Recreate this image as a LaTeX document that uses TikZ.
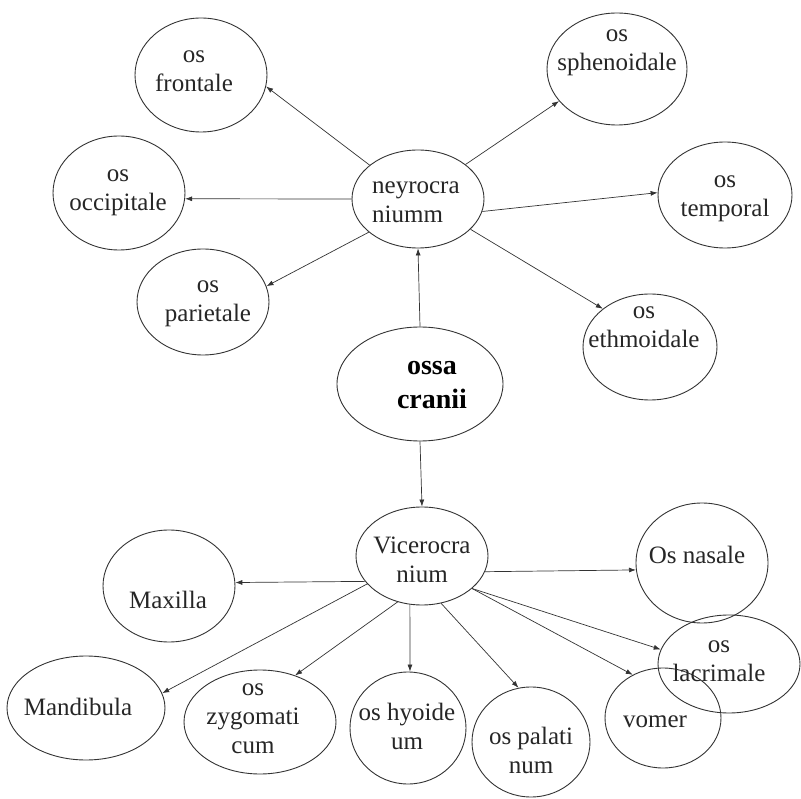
\documentclass[tikz,border=0pt]{standalone}
\usepackage{fontspec}
\setmainfont{Liberation Serif}
\usetikzlibrary{shapes.geometric,arrows.meta}
\begin{document}
\begin{tikzpicture}[x=1pt,y=-1pt,
  bone/.style 2 args={ellipse,draw=black!80,line width=0.9pt,inner sep=0pt,
    minimum width=#1pt,minimum height=#2pt},
  lbl/.style={text=black!85,font=\fontsize{25}{29}\selectfont,align=center,inner sep=0pt},
  big/.style={text=black,font=\fontsize{28}{34}\selectfont\bfseries,align=center,inner sep=0pt},
  link/.style={draw=black!80,line width=0.7pt,-{Latex[length=7pt,width=5pt]}}]
\useasboundingbox (0,0) rectangle (801,799);
% ellipses
\node[bone={132}{114}] (frontale) at (201,75) {};
\node[bone={132}{114}] (occipitale) at (119,193) {};
\node[bone={132}{106}] (parietale) at (203,302) {};
\node[bone={132}{98}] (neyro) at (418,199) {};
\node[bone={166}{114}] (ossa) at (420,384) {};
\node[bone={140}{112}] (sphenoidale) at (617,69) {};
\node[bone={134}{106}] (temporal) at (725,195) {};
\node[bone={134}{106}] (ethmoidale) at (650,347) {};
\node[bone={132}{98}] (viscero) at (422,556) {};
\node[bone={132}{112}] (maxilla) at (169,586) {};
\node[bone={158}{104}] (mandibula) at (86,708) {};
\node[bone={152}{104}] (zygomaticum) at (260,722) {};
\node[bone={116}{112}] (hyoideum) at (408,728) {};
\node[bone={118}{110}] (palatinum) at (531,742) {};
\node[bone={132}{120}] (nasale) at (702,563) {};
\node[bone={142}{98}] (lacrimale) at (729,664) {};
\node[bone={116}{100}] (vomer) at (663,718) {};
% texts
\node[lbl] (t-frontale) at (194,71) {os\\frontale};
\node[lbl] (t-occipitale) at (118,193) {os\\occipitale};
\node[lbl] (t-parietale) at (208,304) {os\\parietale};
\node[lbl,align=left,anchor=west] (t-neyro) at (372,202) {neyrocra\\niumm};
\node[big] (t-ossa) at (432,385) {ossa\\cranii};
\node[lbl] (t-sphenoidale) at (617,53) {os\\sphenoidale};
\node[lbl] (t-temporal) at (725,199) {os\\temporal};
\node[lbl] (t-ethmoidale) at (644,327) {os\\ethmoidale};
\node[lbl] (t-viscero) at (422,560) {Vicerocra\\nium};
\node[lbl] (t-maxilla) at (168,600) {Maxilla};
\node[lbl] (t-mandibula) at (78,707) {Mandibula};
\node[lbl] (t-zygomaticum) at (253,719) {os\\zygomati\\cum};
\node[lbl] (t-hyoideum) at (407,726) {os hyoide\\um};
\node[lbl] (t-palatinum) at (531,750) {os palati\\num};
\node[lbl] (t-nasale) at (697,555) {Os nasale};
\node[lbl] (t-lacrimale) at (719,661) {os\\lacrimale};
\node[lbl] (t-vomer) at (655,722) {vomer};
% connectors
\draw[link] (neyro.145) -- (frontale.-10);
\draw[link] (neyro.180) -- (occipitale.-5);
\draw[link] (neyro.214) -- (parietale.14);
\draw[link] (neyro.36) -- (sphenoidale.209);
\draw[link] (neyro.-11) -- (temporal.178);
\draw[link] (neyro.-30) -- (ethmoidale.141);
\draw[link] (ossa.north) -- (neyro.south);
\draw[link] (ossa.south) -- (viscero.north);
\draw[link] (viscero.204) -- (maxilla.3);
\draw[link] (viscero.207) -- (mandibula.11);
\draw[link] (viscero.242) -- (zygomaticum.53);
\draw[link] (viscero.256) -- (hyoideum.88);
\draw[link] (viscero.-68) -- (palatinum.103);
\draw[link] (viscero.-14) -- (nasale.186);
\draw[link] (viscero.-33) -- (lacrimale.168);
\draw[link] (viscero.-33) -- (vomer.125);
\end{tikzpicture}
\end{document}
